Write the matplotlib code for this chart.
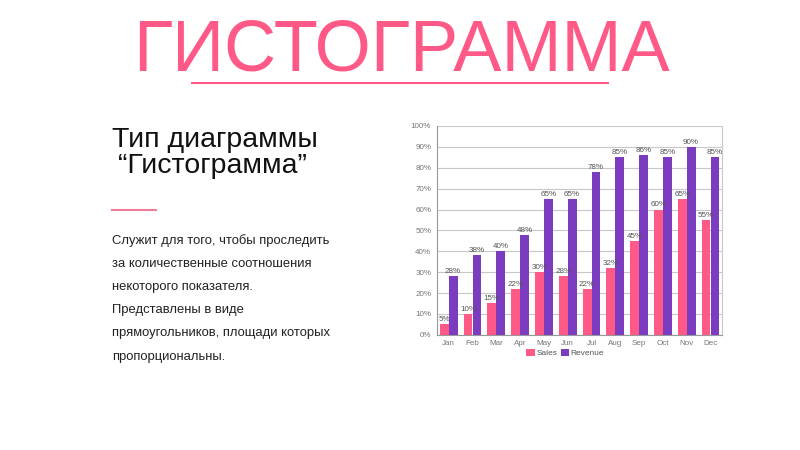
import numpy as np
import matplotlib.pyplot as plt

months = ["Jan", "Feb", "Mar", "Apr", "May", "Jun", "Jul", "Aug", "Sep", "Oct", "Nov", "Dec"]
sales = [5, 10, 15, 22, 30, 28, 22, 32, 45, 60, 65, 55]
revenue = [28, 38, 40, 48, 65, 65, 78, 85, 86, 85, 90, 85]

PINK = "#ff5a87"
PURPLE = "#7b3cbf"

plt.rcParams['font.family'] = ['Liberation Sans', 'DejaVu Sans']

fig = plt.figure(figsize=(8, 4.5), dpi=100)
fig.patch.set_facecolor("white")

# title and decorations
fig.text(0.502, 0.844, "ГИСТОГРАММА", color=PINK, fontsize=52, ha="center", va="baseline")
fig.add_artist(plt.Line2D([0.24, 0.76], [0.816, 0.816], color=PINK, lw=1.5))

fig.text(0.14, 0.673, "Тип диаграммы", fontsize=20.5, ha="left", va="baseline", color="#111111")
fig.text(0.147, 0.616, "“Гистограмма”", fontsize=20.5, ha="left", va="baseline", color="#111111")
fig.add_artist(plt.Line2D([0.14, 0.195], [0.533, 0.533], color="#f07a9a", lw=1.5))

body = [
    "Служит для того, чтобы проследить",
    "за количественные соотношения",
    "некоторого показателя.",
    "Представлены в виде",
    "прямоугольников, площади которых",
    "пропорциональны.",
]
for i, line in enumerate(body):
    fig.text(0.14, 0.465 - i * 0.0515, line, fontsize=9.4, ha="left", va="center", color="#222222")

# chart
ax = fig.add_axes([0.546, 0.256, 0.357, 0.464])
x = np.arange(len(months))
w = 0.37
b1 = ax.bar(x - w / 2, sales, w, color=PINK, label="Sales", zorder=3)
b2 = ax.bar(x + w / 2, revenue, w, color=PURPLE, label="Revenue", zorder=3)

for rects, vals in ((b1, sales), (b2, revenue)):
    for r, v in zip(rects, vals):
        ax.text(r.get_x() + r.get_width() / 2, v + 0.5, f"{v}%", ha="center", va="bottom",
                fontsize=5.8, color="#555555", zorder=4)

ax.set_xlim(-0.5, len(months) - 0.5)
ax.set_ylim(0, 100)
ax.set_yticks(range(0, 101, 10))
ax.set_yticklabels([f"{t}%" for t in range(0, 101, 10)])
ax.set_xticks(x)
ax.set_xticklabels(months)
ax.tick_params(labelsize=5.8, colors="#777777", length=0, pad=4)
ax.grid(axis="y", color="#c8c8c8", lw=0.8, zorder=0)
for s in ax.spines.values():
    s.set_color("#c8c8c8")
ax.spines["top"].set_visible(False)
ax.spines["left"].set_color("#999999")
ax.spines["bottom"].set_color("#999999")

leg = ax.legend(loc="upper center", bbox_to_anchor=(0.45, -0.042), ncol=2, frameon=False,
                fontsize=6, handlelength=1, handleheight=1, handletextpad=0.2, columnspacing=0.4,
                labelcolor="#555555", borderpad=0.1)

fig.savefig("out.png", dpi=100)
